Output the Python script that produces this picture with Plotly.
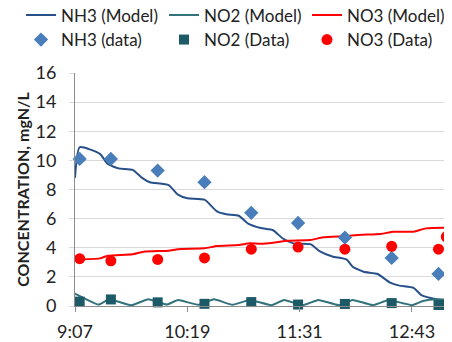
import plotly.graph_objects as go

DAY = "2024-01-01 "

# Measured data (sampling times)
data_times = ["09:10", "09:30", "10:00", "10:30", "11:00", "11:30", "12:00", "12:30", "13:00", "13:05"]
nh3_data = [10.1, 10.1, 9.3, 8.5, 6.4, 5.7, 4.7, 3.3, 2.2, None]
no2_data = [0.3, 0.45, 0.25, 0.15, 0.27, 0.1, 0.14, 0.2, 0.07, 0.07]
no3_data = [3.25, 3.1, 3.2, 3.3, 3.9, 4.05, 3.9, 4.1, 3.9, 4.75]

# Model curves
nh3_model_t = ["09:07", "09:10", "09:23", "09:28", "09:35", "09:44", "09:50", "09:55", "10:07", "10:13",
               "10:19", "10:30", "10:38", "10:44", "10:52", "10:58", "11:06", "11:14", "11:20", "11:27",
               "11:38", "11:44", "11:52", "12:01", "12:05", "12:12", "12:21", "12:29", "12:35", "12:44",
               "12:49", "12:55", "13:01", "13:09"]
nh3_model = [8.8, 10.9, 10.45, 9.75, 9.45, 9.35, 8.8, 8.5, 8.3, 7.65,
             7.4, 7.3, 6.5, 6.3, 6.2, 5.65, 5.35, 5.2, 4.65, 4.3,
             4.25, 3.75, 3.4, 3.2, 2.7, 2.35, 2.2, 1.6, 1.4, 1.25,
             0.75, 0.55, 0.42, 0.4]

no2_model_t = ["09:07", "09:22", "09:29", "09:43", "09:54", "10:06", "10:13", "10:26", "10:36", "10:48",
               "10:59", "11:13", "11:21", "11:33", "11:43", "11:56", "12:05", "12:18", "12:28", "12:43",
               "12:50", "12:59", "13:09"]
no2_model = [0.85, 0.1, 0.46, 0.05, 0.46, 0.1, 0.41, 0.08, 0.46, 0.08,
             0.41, 0.06, 0.41, 0.06, 0.41, 0.06, 0.41, 0.06, 0.41, 0.06,
             0.34, 0.46, 0.41]

no3_model_t = ["09:07", "09:23", "09:28", "09:44", "09:51", "10:07", "10:13", "10:30", "10:38", "10:52",
               "10:59", "11:06", "11:14", "11:23", "11:38", "11:46", "12:01", "12:08", "12:23", "12:31",
               "12:44", "12:52", "13:09"]
no3_model = [3.2, 3.27, 3.45, 3.55, 3.73, 3.8, 3.9, 3.96, 4.12, 4.19,
             4.31, 4.28, 4.35, 4.48, 4.53, 4.72, 4.8, 4.88, 4.95, 5.1,
             5.1, 5.33, 5.38]

y_ticks = [0, 2, 4, 6, 8, 10, 12, 14, 16]
x_tick_labels = ["9:07", "10:19", "11:31", "12:43"]
x_tick_times = ["09:07", "10:19", "11:31", "12:43"]


def ts(lst):
    return [DAY + t for t in lst]


FONT = "Lato, 'Open Sans', sans-serif"
TXT = "#222222"
NH3_LINE = "#27508A"
NH3_MK = "#4A7EBB"
NO2_LINE = "#33717B"
NO2_MK = "#1D5A67"
RED = "#FF0000"

# The page body adds an 8px offset, so the figure is 8px smaller than the window.
W, H = 444, 334
ML, MT, MB = 67, 65, 36
PW, PH = W - ML, H - MT - MB

fig = go.Figure()
fig.add_trace(go.Scatter(x=ts(nh3_model_t), y=nh3_model, mode="lines", name="NH3 (Model)",
                         line=dict(color=NH3_LINE, width=2, shape="spline", smoothing=0.5),
                         legend="legend"))
fig.add_trace(go.Scatter(x=ts(no2_model_t), y=no2_model, mode="lines", name="NO2 (Model)",
                         line=dict(color=NO2_LINE, width=2, shape="spline", smoothing=0.4),
                         legend="legend"))
fig.add_trace(go.Scatter(x=ts(no3_model_t), y=no3_model, mode="lines", name="NO3 (Model)",
                         line=dict(color=RED, width=2, shape="spline", smoothing=0.5),
                         legend="legend"))
fig.add_trace(go.Scatter(x=ts(data_times), y=nh3_data, mode="markers", name="NH3 (data)",
                         marker=dict(symbol="diamond", size=11, color=NH3_MK),
                         cliponaxis=False, legend="legend2"))
fig.add_trace(go.Scatter(x=ts(data_times), y=no2_data, mode="markers", name="NO2 (Data)",
                         marker=dict(symbol="square", size=10, color=NO2_MK),
                         cliponaxis=False, legend="legend2"))
fig.add_trace(go.Scatter(x=ts(data_times), y=no3_data, mode="markers", name="NO3 (Data)",
                         marker=dict(symbol="circle", size=11, color=RED),
                         cliponaxis=False, legend="legend2"))

leg_common = dict(orientation="h", xref="paper", yref="paper", xanchor="left",
                  yanchor="middle", entrywidth=98, entrywidthmode="pixels",
                  font=dict(family=FONT, size=17, color=TXT),
                  bgcolor="rgba(0,0,0,0)", itemwidth=30, tracegroupgap=0, borderwidth=0)
leg_x = (13 - ML) / PW

fig.update_layout(
    template="none",
    width=W, height=H,
    margin=dict(l=ML, r=0, t=MT, b=MB, pad=0, autoexpand=False),
    paper_bgcolor="white", plot_bgcolor="white",
    font=dict(family=FONT, size=18, color=TXT),
    legend=dict(x=leg_x, y=(H - MB - 7.5) / PH, **leg_common),
    legend2=dict(x=leg_x, y=(H - MB - 32) / PH, **leg_common),
    xaxis=dict(
        type="date", automargin=False,
        range=[DAY + "09:07", DAY + "13:08:40"],
        tickvals=ts(x_tick_times), ticktext=x_tick_labels,
        showgrid=False, showline=True, linecolor="#8C8C8C", linewidth=1,
        ticks="outside", ticklen=5, tickcolor="#8C8C8C", tickwidth=1,
        ticklabelstandoff=4,
        tickfont=dict(family=FONT, size=18, color=TXT),
        zeroline=False, fixedrange=True,
    ),
    yaxis=dict(
        range=[0, 16], tickvals=y_ticks, automargin=False,
        showgrid=True, gridcolor="#D9D9D9", gridwidth=1,
        showline=True, linecolor="#8C8C8C", linewidth=1,
        ticks="outside", ticklen=5, tickcolor="#D9D9D9", tickwidth=1,
        ticklabelstandoff=9,
        tickfont=dict(family=FONT, size=18, color=TXT),
        zeroline=False,
        title=dict(text="<b>CONCENTRATION, mgN/L</b>", font=dict(family=FONT, size=16, color=TXT),
                   standoff=1),
    ),
    showlegend=True,
)

fig.write_html("out.html")
